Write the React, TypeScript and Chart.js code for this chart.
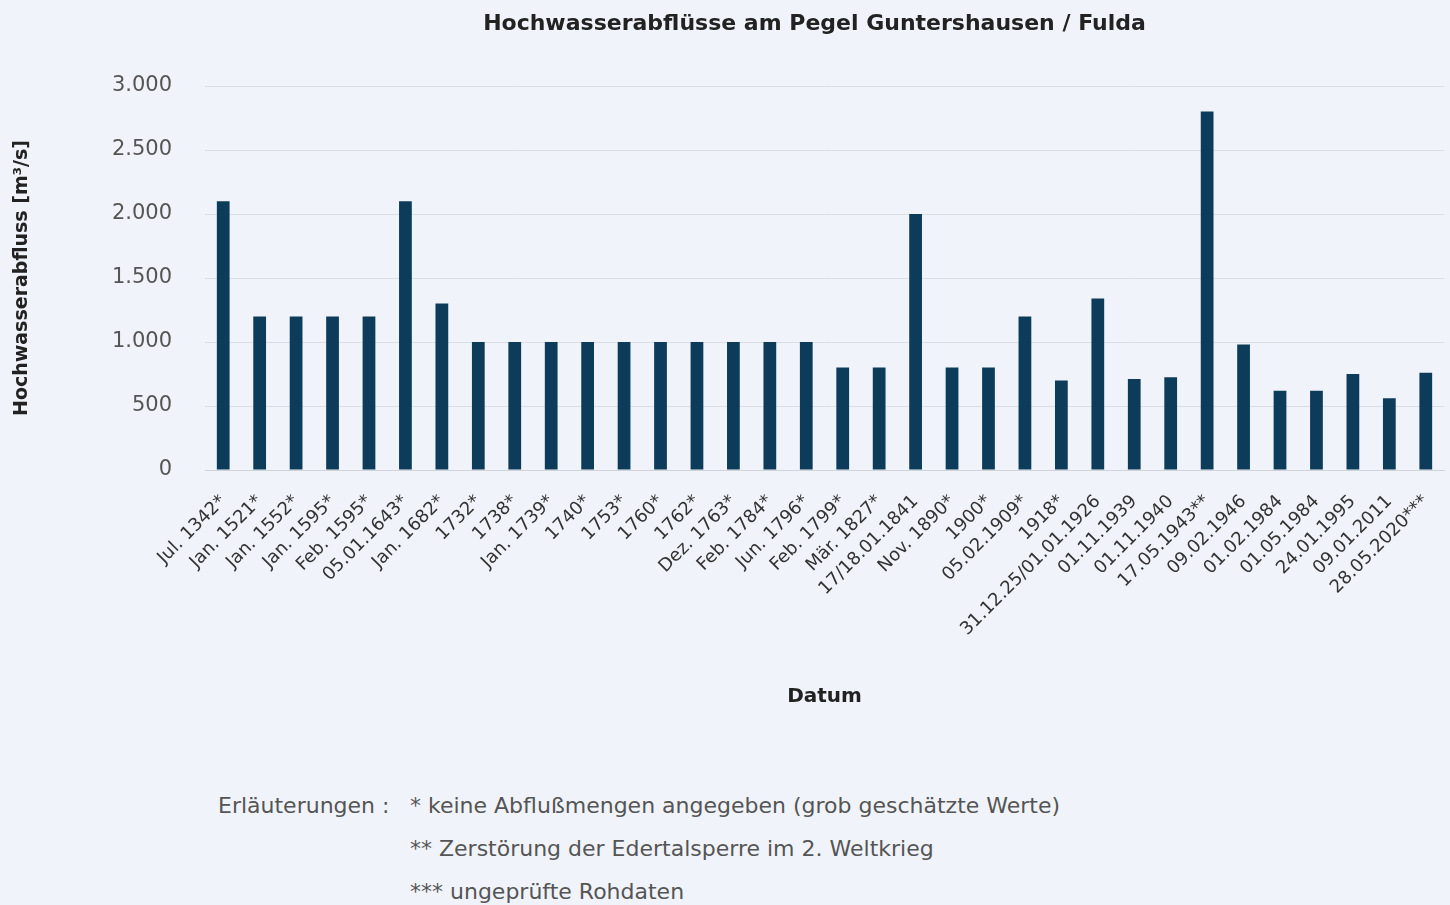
import React, { useEffect, useRef } from "react";
import { Chart, registerables } from "chart.js";

Chart.register(...registerables);

const categories: string[] = [
  "Jul. 1342*", "Jan. 1521*", "Jan. 1552*", "Jan. 1595*", "Feb. 1595*", "05.01.1643*",
  "Jan. 1682*", "1732*", "1738*", "Jan. 1739*", "1740*", "1753*", "1760*", "1762*",
  "Dez. 1763*", "Feb. 1784*", "Jun. 1796*", "Feb. 1799*", "Mär. 1827*", "17/18.01.1841",
  "Nov. 1890*", "1900*", "05.02.1909*", "1918*", "31.12.25/01.01.1926", "01.11.1939",
  "01.11.1940", "17.05.1943**", "09.02.1946", "01.02.1984", "01.05.1984", "24.01.1995",
  "09.01.2011", "28.05.2020***",
];

const discharge: number[] = [
  2100, 1200, 1200, 1200, 1200, 2100, 1300, 1000, 1000, 1000, 1000, 1000, 1000, 1000,
  1000, 1000, 1000, 800, 800, 2000, 800, 800, 1200, 700, 1340, 710, 725, 2800, 980,
  620, 620, 750, 560, 760,
];

const yTicks: number[] = [0, 500, 1000, 1500, 2000, 2500, 3000];

const titleText = "Hochwasserabflüsse am Pegel Guntershausen / Fulda";
const yTitle = "Hochwasserabfluss [m³/s]";
const xTitle = "Datum";
const notesLabel = "Erläuterungen :";
const notes: string[] = [
  "* keine Abflußmengen angegeben (grob geschätzte Werte)",
  "** Zerstörung der Edertalsperre im 2. Weltkrieg",
  "*** ungeprüfte Rohdaten",
];

const FONT = "'DejaVu Sans', sans-serif";
const BG = "#f0f4fa";

function fmt(v: number): string {
  return v.toString().replace(/\B(?=(\d{3})+(?!\d))/g, ".");
}

const titlePlugin = {
  id: "centeredTitle",
  afterDraw(chart: any) {
    const { ctx, chartArea } = chart;
    ctx.save();
    ctx.font = `bold 22px ${FONT}`;
    ctx.fillStyle = "#222";
    ctx.textAlign = "center";
    ctx.textBaseline = "middle";
    ctx.fillText(titleText, (chartArea.left + chartArea.right) / 2 - 10, 24);
    ctx.restore();
  },
};

export default function App() {
  const ref = useRef<HTMLCanvasElement | null>(null);

  useEffect(() => {
    document.body.style.margin = "0";
    document.body.style.background = BG;
    const ctx = ref.current;
    if (!ctx) return;
    const chart = new Chart(ctx, {
      type: "bar",
      data: {
        labels: categories,
        datasets: [
          {
            label: yTitle,
            data: discharge,
            backgroundColor: "#0c3c5a",
            categoryPercentage: 1,
            barPercentage: 0.35,
          },
        ],
      },
      options: {
        animation: false,
        responsive: false,
        maintainAspectRatio: false,
        layout: { padding: { left: 0, right: 6, top: 86, bottom: 0 } },
        plugins: {
          legend: { display: false },
          tooltip: { enabled: false },
          title: { display: false },
        },
        scales: {
          x: {
            grid: { display: false, drawTicks: false },
            border: { display: true, color: "#cfd4da" },
            ticks: {
              autoSkip: false,
              minRotation: 45,
              maxRotation: 45,
              padding: 21,
              color: "#333",
              font: { family: FONT, size: 18 },
            },
            title: {
              display: true,
              text: xTitle,
              color: "#222",
              font: { family: FONT, size: 20, weight: "bold" },
              padding: { top: 4, bottom: 4 },
            },
            afterFit: (s: any) => {
              s.height = 243;
              s.paddingRight = 0;
            },
          },
          y: {
            min: 0,
            max: 3000,
            afterBuildTicks: (s: any) => {
              s.ticks = yTicks.map((v) => ({ value: v }));
            },
            grid: { color: "#dadfe5", drawTicks: false },
            border: { display: false },
            ticks: {
              padding: 33,
              color: "#555",
              font: { family: FONT, size: 21 },
              callback: (v: any) => fmt(Number(v)),
            },
            title: {
              display: true,
              text: yTitle,
              color: "#222",
              font: { family: FONT, size: 19, weight: "bold" },
              padding: { top: 11, bottom: 0 },
            },
            afterFit: (s: any) => {
              s.width = 205;
            },
          },
        },
      },
      plugins: [titlePlugin],
    });
    return () => chart.destroy();
  }, []);

  const noteStyle: React.CSSProperties = {
    position: "absolute",
    fontFamily: FONT,
    fontSize: 22,
    color: "#555",
    whiteSpace: "nowrap",
    lineHeight: "26px",
  };

  return (
    <div style={{ position: "relative", width: 1450, height: 905, background: BG, overflow: "hidden" }}>
      <canvas ref={ref} width={1450} height={713} style={{ display: "block", width: 1450, height: 713 }} />
      <div style={{ ...noteStyle, left: 218, top: 793 }}>{notesLabel}</div>
      {notes.map((n, i) => (
        <div key={i} style={{ ...noteStyle, left: 410, top: 793 + i * 43 }}>
          {n}
        </div>
      ))}
    </div>
  );
}
